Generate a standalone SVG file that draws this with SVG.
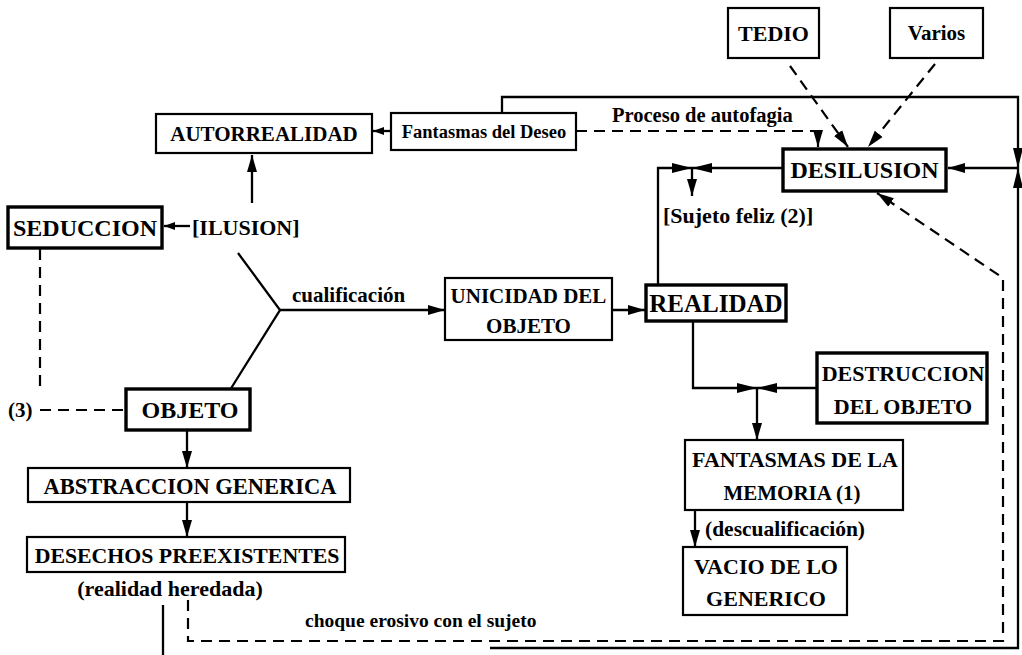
<svg xmlns="http://www.w3.org/2000/svg" width="1022" height="655" viewBox="0 0 1022 655">
<style>
.bx{fill:#fff;stroke:#000;stroke-width:2.2}
.bb{fill:#fff;stroke:#000;stroke-width:3.4}
.t{font-family:"Liberation Serif","Times New Roman",serif;font-weight:bold;fill:#000}
.ln{fill:none;stroke:#000;stroke-width:2.3}
.ds{fill:none;stroke:#000;stroke-width:2.2;stroke-dasharray:11,7}
.tri{fill:#000}
</style>
<defs>
<marker id="ah" markerWidth="18" markerHeight="12" refX="17" refY="6" orient="auto" markerUnits="userSpaceOnUse"><path d="M0,1 L17,6 L0,11 z"/></marker>
<marker id="as" markerWidth="12" markerHeight="10" refX="11" refY="5" orient="auto" markerUnits="userSpaceOnUse"><path d="M0,1 L11,5 L0,9 z"/></marker>
</defs>
<rect width="1022" height="655" fill="#fff"/>
<g id="connectors">
<path class="ln" d="M252,203 V155" marker-end="url(#ah)"/>
<path class="ln" d="M190,226 H164" marker-end="url(#as)"/>
<path class="ln" d="M391,131 H373" marker-end="url(#as)"/>
<path class="ln" d="M502,113 V97 H1018 V648 H490"/>
<path class="ds" d="M576,131 H818 V147" marker-end="url(#ah)"/>
<path class="ds" d="M790,66 L848,147" marker-end="url(#ah)"/>
<path class="ds" d="M935,64 L868,147" marker-end="url(#ah)"/>
<path class="tri" d="M1013,148 L1023,148 L1018,168 Z M1013,188 L1023,188 L1018,168 Z"/>
<path class="ln" d="M1018,168 H948" marker-end="url(#ah)"/>
<path class="ln" d="M783,168 H658 V285"/>
<path class="tri" d="M672,163 L672,173 L692,168 Z M712,163 L712,173 L692,168 Z"/>
<path class="ln" d="M692,168 V196" marker-end="url(#ah)"/>
<path class="ln" d="M238,253 L280,310 L230,390"/>
<path class="ln" d="M280,310 H445" marker-end="url(#ah)"/>
<path class="ln" d="M612,310 H645" marker-end="url(#ah)"/>
<path class="ln" d="M693,320 V388 H817"/>
<path class="tri" d="M737,383 L737,393 L757,388 Z M777,383 L777,393 L757,388 Z"/>
<path class="ln" d="M757,388 V440" marker-end="url(#ah)"/>
<path class="ln" d="M695,510 V547" marker-end="url(#ah)"/>
<path class="ds" d="M188,600 V641 H1003 V278 L877,193" marker-end="url(#ah)"/>
<path class="ln" d="M187,430 V468" marker-end="url(#ah)"/>
<path class="ln" d="M187,502 V537" marker-end="url(#ah)"/>
<path class="ds" d="M40,249 V386"/>
<path class="ds" d="M40,410 H125"/>
<path class="ln" d="M163,605 V655"/>
</g>
<g id="tedio"><rect class="bx" x="728" y="8" width="91" height="50"/><text class="t" x="773.5" y="41" font-size="22" text-anchor="middle">TEDIO</text></g>
<g id="varios"><rect class="bx" x="890" y="8" width="93" height="50"/><text class="t" x="936.5" y="40" font-size="21" text-anchor="middle">Varios</text></g>
<g id="autorrealidad"><rect class="bx" x="156" y="114" width="216" height="39"/><text class="t" x="264" y="141" font-size="21" text-anchor="middle">AUTORREALIDAD</text></g>
<g id="fantasmas-deseo"><rect class="bx" x="391" y="113" width="185" height="37"/><text class="t" x="484" y="138" font-size="18.5" text-anchor="middle">Fantasmas del Deseo</text></g>
<g id="proceso"><text class="t" x="612" y="122" font-size="20.5">Proceso de autofagia</text></g>
<g id="desilusion"><rect class="bb" x="783" y="149" width="163" height="42"/><text class="t" x="864.5" y="178" font-size="24" text-anchor="middle">DESILUSION</text></g>
<g id="sujeto-feliz"><text class="t" x="663" y="223" font-size="22">[Sujeto feliz (2)]</text></g>
<g id="seduccion"><rect class="bb" x="8" y="207" width="154" height="41"/><text class="t" x="85" y="236" font-size="24" text-anchor="middle">SEDUCCION</text></g>
<g id="ilusion"><text class="t" x="192" y="235" font-size="22">[ILUSION]</text></g>
<g id="cualificacion"><text class="t" x="292" y="302" font-size="21">cualificación</text></g>
<g id="unicidad"><rect class="bx" x="445" y="278" width="167" height="62"/><text class="t" x="528.5" y="303" font-size="21" text-anchor="middle">UNICIDAD DEL</text><text class="t" x="528.5" y="333" font-size="21" text-anchor="middle">OBJETO</text></g>
<g id="realidad"><rect class="bb" x="646" y="285" width="140" height="36"/><text class="t" x="716" y="312" font-size="25" text-anchor="middle">REALIDAD</text></g>
<g id="destruccion"><rect class="bb" x="817" y="353" width="170" height="70"/><text class="t" x="903" y="381" font-size="22" text-anchor="middle">DESTRUCCION</text><text class="t" x="903" y="414" font-size="22" text-anchor="middle">DEL OBJETO</text></g>
<g id="fantasmas-memoria"><rect class="bx" x="685" y="440" width="218" height="70"/><text class="t" x="795" y="467" font-size="22" text-anchor="middle">FANTASMAS DE LA</text><text class="t" x="792" y="500" font-size="21" text-anchor="middle">MEMORIA (1)</text></g>
<g id="descualificacion"><text class="t" x="705" y="536" font-size="21.5">(descualificación)</text></g>
<g id="vacio"><rect class="bx" x="683" y="547" width="164" height="68"/><text class="t" x="766" y="574" font-size="22" text-anchor="middle">VACIO DE LO</text><text class="t" x="766" y="606" font-size="22" text-anchor="middle">GENERICO</text></g>
<g id="objeto"><rect class="bb" x="126" y="389" width="124" height="41"/><text class="t" x="190" y="418" font-size="24" text-anchor="middle">OBJETO</text></g>
<g id="ref3"><text class="t" x="8" y="417" font-size="21">(3)</text></g>
<g id="abstraccion"><rect class="bx" x="28" y="468" width="322" height="34"/><text class="t" x="190" y="494" font-size="22.5" text-anchor="middle">ABSTRACCION GENERICA</text></g>
<g id="desechos"><rect class="bx" x="27" y="537" width="318" height="35"/><text class="t" x="187" y="563" font-size="21.8" text-anchor="middle">DESECHOS PREEXISTENTES</text></g>
<g id="realidad-heredada"><text class="t" x="170" y="596" font-size="22" text-anchor="middle">(realidad heredada)</text></g>
<g id="choque"><text class="t" x="305" y="627" font-size="19.5">choque erosivo con el sujeto</text></g>
</svg>
